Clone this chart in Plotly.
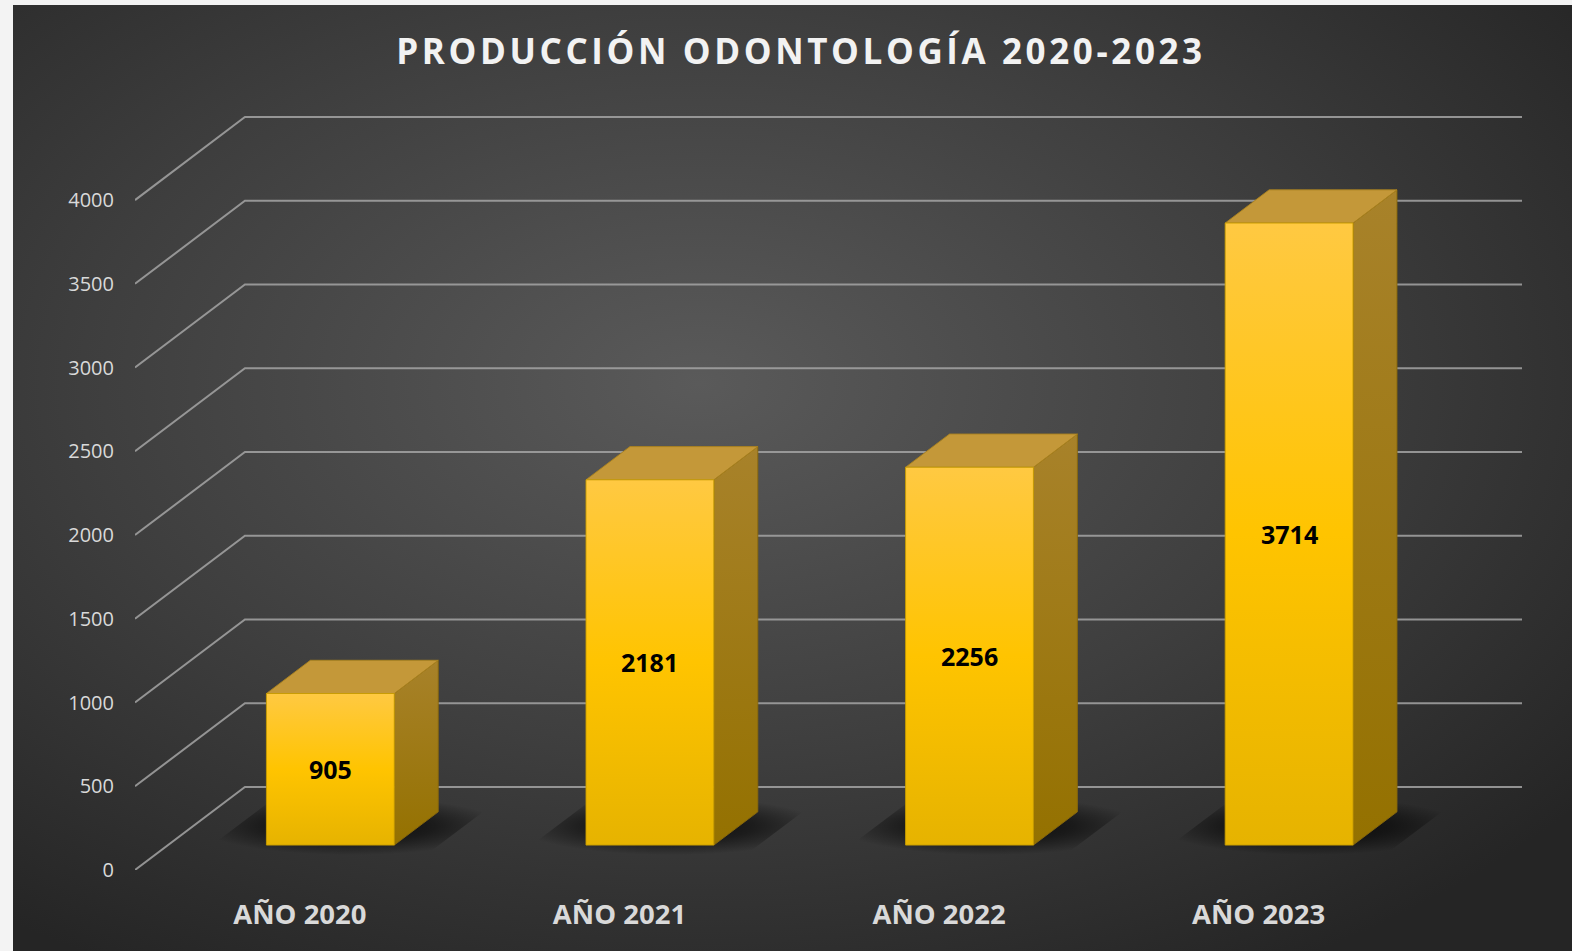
import base64
import plotly.graph_objects as go

# ---------------- data ----------------
categories = ["AÑO 2020", "AÑO 2021", "AÑO 2022", "AÑO 2023"]
values = [905, 2181, 2256, 3714]
y_ticks = [0, 500, 1000, 1500, 2000, 2500, 3000, 3500, 4000]
title_text = "PRODUCCIÓN ODONTOLOGÍA 2020-2023"

# ---------------- layout constants ----------------
W, H = 1572, 951
ML, MR, MT, MB = 135, 50, 115, 81
X_RANGE = [-0.5, 3.84]
Y_RANGE = [0, 4508]
DX, DY = 0.344, 496          # oblique offset for one full unit of depth
HALF_W = 0.2
D_FRONT, D_BACK = 0.3, 0.7
LABEL_SHIFT = 0.016

FONT = "Open Sans, Noto Sans, DejaVu Sans, sans-serif"

fig = go.Figure()


def P(x, v, d):
    return x + d * DX, v + d * DY


def poly(pts):
    xs = [p[0] for p in pts] + [pts[0][0]]
    ys = [p[1] for p in pts] + [pts[0][1]]
    return xs, ys


# ---------------- gridlines (side wall + back wall) ----------------
gx, gy = [], []
for v in y_ticks:
    a = P(X_RANGE[0], v, 0)
    b = P(X_RANGE[0], v, 1)
    gx += [a[0], b[0], X_RANGE[1], None]
    gy += [a[1], b[1], b[1], None]
fig.add_trace(go.Scatter(x=gx, y=gy, mode="lines", cliponaxis=False,
                         line=dict(color="rgba(165,165,165,0.85)", width=2),
                         hoverinfo="skip", showlegend=False))

# ---------------- bars ----------------
for i, v in enumerate(values):
    xl, xr = i - HALF_W + 0.008, i + HALF_W + 0.008

    # floor shadow
    sx, sy = poly([P(xl - 0.17, 0, 0.18), P(xr + 0.14, 0, 0.18),
                   P(xr + 0.14, 0, 0.88), P(xl - 0.17, 0, 0.88)])
    fig.add_trace(go.Scatter(x=sx, y=sy, mode="lines", fill="toself",
                             line=dict(width=0, color="rgba(0,0,0,0)"),
                             fillgradient=dict(type="radial",
                                               colorscale=[[0, "rgba(0,0,0,0.85)"],
                                                           [0.55, "rgba(0,0,0,0.5)"],
                                                           [1, "rgba(0,0,0,0)"]]),
                             hoverinfo="skip", showlegend=False))

    # side face
    sx, sy = poly([P(xr, 0, D_FRONT), P(xr, 0, D_BACK),
                   P(xr, v, D_BACK), P(xr, v, D_FRONT)])
    fig.add_trace(go.Scatter(x=sx, y=sy, mode="lines", fill="toself",
                             line=dict(width=1, color="rgba(140,105,10,0.9)"),
                             fillgradient=dict(type="vertical",
                                               colorscale=[[0, "#947100"], [1, "#a8822a"]]),
                             hoverinfo="skip", showlegend=False))

    # top face
    sx, sy = poly([P(xl, v, D_FRONT), P(xr, v, D_FRONT),
                   P(xr, v, D_BACK), P(xl, v, D_BACK)])
    fig.add_trace(go.Scatter(x=sx, y=sy, mode="lines", fill="toself",
                             line=dict(width=1, color="rgba(170,130,30,0.9)"),
                             fillcolor="#c49839",
                             hoverinfo="skip", showlegend=False))

    # front face
    sx, sy = poly([P(xl, 0, D_FRONT), P(xr, 0, D_FRONT),
                   P(xr, v, D_FRONT), P(xl, v, D_FRONT)])
    fig.add_trace(go.Scatter(x=sx, y=sy, mode="lines", fill="toself",
                             line=dict(width=1, color="rgba(200,155,0,0.9)"),
                             fillgradient=dict(type="vertical",
                                               colorscale=[[0, "#e6b300"], [0.5, "#ffc400"],
                                                           [1, "#ffc942"]]),
                             hoverinfo="skip", showlegend=False))

    # value label
    lx, ly = P((xl + xr) / 2, v / 2, D_FRONT)
    fig.add_annotation(x=lx, y=ly, text=f"<b>{v}</b>", showarrow=False,
                       font=dict(family=FONT, size=25, color="#000000"))

# ---------------- background gradient image ----------------
plot_w = W - ML - MR
plot_h = H - MT - MB
bg_left, bg_top = 13, 5
svg = (
    f'<svg xmlns="http://www.w3.org/2000/svg" width="{W - bg_left}" height="{H - bg_top}">'
    '<defs><radialGradient id="g" cx="0.44" cy="0.40" r="0.72">'
    '<stop offset="0" stop-color="#5a5a5a"/>'
    '<stop offset="0.55" stop-color="#3e3e3e"/>'
    '<stop offset="1" stop-color="#252525"/>'
    '</radialGradient></defs>'
    f'<rect width="{W - bg_left}" height="{H - bg_top}" fill="url(#g)"/></svg>'
)
src = "data:image/svg+xml;base64," + base64.b64encode(svg.encode()).decode()
fig.add_layout_image(dict(source=src, xref="paper", yref="paper",
                          x=(bg_left - ML) / plot_w, y=(H - MB - bg_top) / plot_h,
                          sizex=(W - bg_left) / plot_w, sizey=(H - bg_top) / plot_h,
                          xanchor="left", yanchor="top", sizing="stretch",
                          layer="below"))

fig.update_layout(
    width=W, height=H,
    margin=dict(l=ML, r=MR, t=MT, b=MB, pad=0),
    paper_bgcolor="#f3f3f3",
    plot_bgcolor="rgba(0,0,0,0)",
    showlegend=False,
    title=dict(text=f'<b><span style="letter-spacing:3.6px">{title_text}</span></b>',
               x=801 / W, xref="container", xanchor="center",
               y=1 - 52 / H, yref="container", yanchor="middle",
               font=dict(family=FONT, size=35, color="#f2f2f2")),
    xaxis=dict(range=X_RANGE, showgrid=False, zeroline=False, showline=False,
               tickmode="array", tickvals=[i + LABEL_SHIFT for i in range(len(categories))],
               ticktext=[f"<b>{c}</b>" for c in categories],
               ticks="", ticklabelstandoff=25,
               tickfont=dict(family=FONT, size=27.5, color="#d9d9d9"), fixedrange=True),
    yaxis=dict(range=Y_RANGE, showgrid=False, zeroline=False, showline=False,
               tickmode="array", tickvals=y_ticks, ticktext=[str(t) for t in y_ticks],
               ticks="", ticklabelstandoff=20,
               tickfont=dict(family=FONT, size=20, color="#d9d9d9"), fixedrange=True),
)

fig.write_html("out.html", config={"displayModeBar": False},
               post_script="document.body.style.margin='0';document.body.style.overflow='hidden';")
